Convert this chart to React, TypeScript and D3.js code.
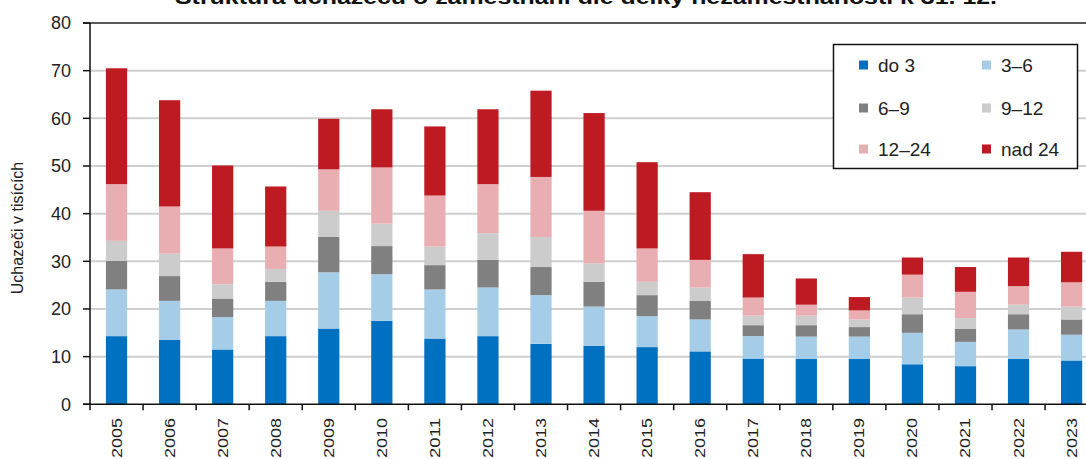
import React from "react";
import * as d3 from "d3";

const years = ["2005","2006","2007","2008","2009","2010","2011","2012","2013","2014","2015","2016","2017","2018","2019","2020","2021","2022","2023"];
const do3 =    [14.3,13.5,11.5,14.3,15.9,17.5,13.8,14.3,12.7,12.3,12.0,11.1,9.6,9.5,9.5,8.4,8.0,9.5,9.2];
const m3_6 =   [9.8,8.2,6.8,7.4,11.8,9.8,10.3,10.2,10.2,8.2,6.5,6.7,4.7,4.7,4.7,6.6,5.1,6.2,5.4];
const m6_9 =   [6.0,5.2,3.9,4.0,7.4,5.9,5.1,5.8,5.9,5.2,4.4,3.9,2.3,2.4,2.0,3.9,2.7,3.2,3.2];
const m9_12 =  [4.2,4.7,3.0,2.7,5.5,4.7,3.9,5.6,6.3,3.9,2.8,2.8,2.0,2.0,1.6,3.5,2.3,2.0,2.7];
const m12_24 = [11.9,9.9,7.5,4.7,8.7,11.8,10.7,10.3,12.6,11.0,7.0,5.8,3.8,2.3,1.9,4.8,5.5,3.9,5.1];
const nad24 =  [24.3,22.3,17.4,12.6,10.6,12.2,14.5,15.7,18.1,20.5,18.1,14.2,9.1,5.5,2.8,3.6,5.2,6.0,6.4];

const seriesNames = ["do 3", "3–6", "6–9", "9–12", "12–24", "nad 24"];
const seriesValues = [do3, m3_6, m6_9, m9_12, m12_24, nad24];
const colors = ["#0070C0", "#A6CDE8", "#808080", "#CCCCCC", "#E8AEB1", "#BE1A22"];
const yTicks = [0, 10, 20, 30, 40, 50, 60, 70, 80];

const title = "Struktura uchazečů o zaměstnání dle délky nezaměstnanosti k 31. 12.";
const yTitle = "Uchazeči v tisících";

export default function App() {
  const W = 1086, H = 459;
  const left = 90, bottom = 404.3, top = 23;
  const step = 53.06;
  const x = d3.scaleBand<string>().domain(years).range([left, left + step * years.length]).paddingInner(0.6).paddingOuter(0.3);
  const y = d3.scaleLinear().domain([0, 80]).range([bottom, top]);

  const rows = years.map((yr, i) => {
    const r: any = { year: yr };
    seriesNames.forEach((n, k) => (r[n] = seriesValues[k][i]));
    return r;
  });
  const stacked = d3.stack<any>().keys(seriesNames)(rows);

  const font = "'Liberation Sans', Arial, sans-serif";
  const legendCols = [859, 982];
  const legendRows = [65, 108, 149];

  return (
    <svg width={W} height={H} style={{ position: "absolute", left: 0, top: 0 }} fontFamily={font}>
      <rect x={0} y={0} width={W} height={H} fill="#fff" />
      <text x={586} y={4} textAnchor="middle" fontWeight="bold" fontSize={20} textLength={822} lengthAdjust="spacingAndGlyphs" fill="#111">{title}</text>
      {yTicks.filter(t => t > 0 && t < 80).map(t => (
        <line key={t} x1={left} x2={W} y1={y(t)} y2={y(t)} stroke="#CFCFCF" strokeWidth={2} />
      ))}
      <line x1={left - 7} x2={W} y1={y(80)} y2={y(80)} stroke="#222" strokeWidth={1.5} />
      {stacked.map((s, k) => (
        <g key={k} fill={colors[k]}>
          {s.map((d, i) => (
            <rect key={i} x={x(years[i])} width={x.bandwidth()} y={y(d[1])} height={y(d[0]) - y(d[1])} />
          ))}
        </g>
      ))}
      <line x1={left} x2={left} y1={top} y2={bottom} stroke="#111" strokeWidth={1.5} />
      <line x1={left - 7} x2={W} y1={bottom} y2={bottom} stroke="#111" strokeWidth={1.5} />
      {yTicks.map(t => (
        <g key={t}>
          <line x1={left - 7} x2={left} y1={y(t)} y2={y(t)} stroke="#111" strokeWidth={1.5} />
          <text x={71} y={y(t)} dy="0.35em" textAnchor="end" fontSize={18} fill="#222">{t}</text>
        </g>
      ))}
      {d3.range(years.length + 1).map(i => (
        <line key={i} x1={left + i * step} x2={left + i * step} y1={bottom} y2={bottom + 6} stroke="#111" strokeWidth={1.5} />
      ))}
      {years.map(yr => {
        const cx = (x(yr) as number) + x.bandwidth() / 2;
        return (
          <text key={yr} transform={`translate(${cx + 5},${418}) rotate(-90)`} textAnchor="end" fontSize={14} textLength={40} lengthAdjust="spacingAndGlyphs" fill="#222">{yr}</text>
        );
      })}
      <text transform={`translate(23,228) rotate(-90)`} textAnchor="middle" fontSize={16} fill="#222">{yTitle}</text>
      <rect x={833.5} y={44.5} width={244} height={124} fill="#fff" stroke="#111" strokeWidth={1.5} />
      {seriesNames.map((n, k) => {
        const cx = legendCols[k % 2];
        const cy = legendRows[Math.floor(k / 2)];
        return (
          <g key={n}>
            <rect x={cx} y={cy - 4.5} width={9} height={9} fill={colors[k]} />
            <text x={cx + 19} y={cy} dy="0.35em" fontSize={19} fill="#222">{n}</text>
          </g>
        );
      })}
    </svg>
  );
}
